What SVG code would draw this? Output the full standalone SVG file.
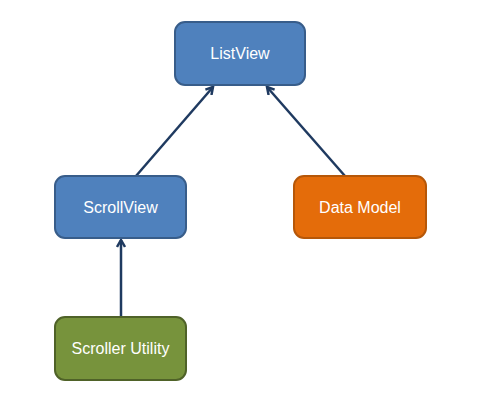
<svg xmlns="http://www.w3.org/2000/svg" width="477" height="402" viewBox="0 0 477 402">
<style>
.box{stroke-width:2}
.blue{fill:#4F81BD;stroke:#385D8A}
.orange{fill:#E46C0A;stroke:#B65708}
.green{fill:#77933C;stroke:#4F6228}
.lbl{font-family:"Liberation Sans",Arial,sans-serif;font-size:16px;fill:#fff;text-anchor:middle;dominant-baseline:central}
.conn{stroke:#1F3A60;stroke-width:2.5;fill:none;marker-end:url(#arr)}
</style>
<defs>
<marker id="arr" markerWidth="10" markerHeight="10" refX="8" refY="5" orient="auto" markerUnits="userSpaceOnUse">
<path d="M1,1 L8,5 L1,9" fill="none" stroke="#1F3A60" stroke-width="2.5"/>
</marker>
</defs>
<rect width="477" height="402" fill="#fff"/>
<g id="connectors">
<line class="conn" x1="136" y1="176" x2="213" y2="87"/>
<line class="conn" x1="345" y1="176" x2="267" y2="87"/>
<line class="conn" x1="121" y1="317" x2="121" y2="240"/>
</g>
<g id="listview">
<rect class="box blue" x="175" y="22" width="130" height="63" rx="10"/>
<text class="lbl" x="240" y="53.5">ListView</text>
</g>
<g id="scrollview">
<rect class="box blue" x="55" y="176" width="131" height="62" rx="10"/>
<text class="lbl" x="120.5" y="207">ScrollView</text>
</g>
<g id="datamodel">
<rect class="box orange" x="294" y="176" width="132" height="62" rx="10"/>
<text class="lbl" x="360" y="207">Data Model</text>
</g>
<g id="scroller">
<rect class="box green" x="55" y="317" width="131" height="63" rx="10"/>
<text class="lbl" x="120.5" y="348.5">Scroller Utility</text>
</g>
</svg>
